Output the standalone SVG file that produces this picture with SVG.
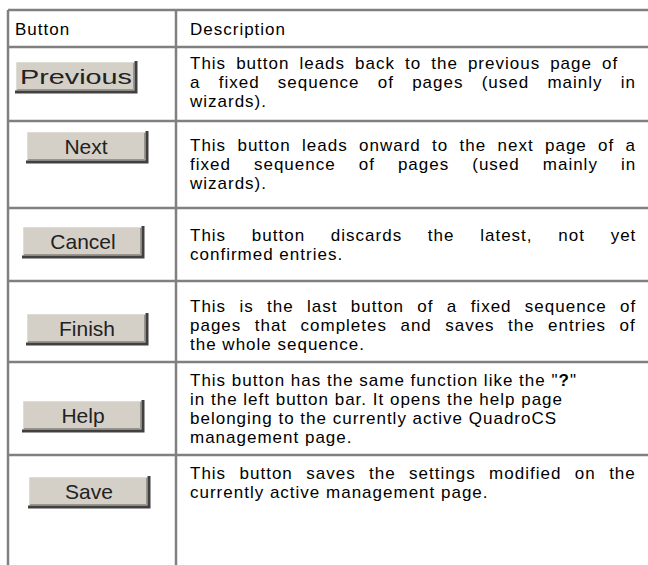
<svg xmlns="http://www.w3.org/2000/svg" xmlns:xlink="http://www.w3.org/1999/xlink" width="648" height="565" viewBox="0 0 648 565">
<style>
.grid{stroke:#808080;stroke-width:2.5;fill:none}
.t{font-family:"Liberation Sans",Arial,sans-serif;font-size:17px;letter-spacing:1px;fill:#000}
.bt{font-family:"Liberation Sans",Arial,sans-serif;font-size:21px;fill:#222;text-anchor:middle}
</style>
<defs>
<g id="btn">
<rect x="0" y="0" width="122" height="32" fill="#d4d0c8"/>
<polyline points="0.5,32 0.5,0.5 122,0.5" fill="none" stroke="#ffffff" stroke-width="1.5"/>
<polyline points="0,31 121,31 121,0" fill="none" stroke="#404040" stroke-width="3"/>
<polyline points="2,28.5 118.5,28.5 118.5,2" fill="none" stroke="#9a968e" stroke-width="1"/>
</g>
</defs>
<rect width="648" height="565" fill="#ffffff"/>
<g id="grid">
<line class="grid" x1="8" y1="10" x2="648" y2="10"/>
<line class="grid" x1="8" y1="10" x2="8" y2="565"/>
<line class="grid" x1="176" y1="10" x2="176" y2="565"/>
<line class="grid" x1="8" y1="47" x2="648" y2="47"/>
<line class="grid" x1="8" y1="121" x2="648" y2="121"/>
<line class="grid" x1="8" y1="208" x2="648" y2="208"/>
<line class="grid" x1="8" y1="281" x2="648" y2="281"/>
<line class="grid" x1="8" y1="362" x2="648" y2="362"/>
<line class="grid" x1="8" y1="455" x2="648" y2="455"/>
</g>
<g id="header">
<text class="t" x="15" y="35">Button</text>
<text class="t" x="190" y="35">Description</text>
</g>
<g id="row-previous">
<use xlink:href="#btn" x="15" y="61"/>
<text class="bt" x="76" y="84" textLength="112" lengthAdjust="spacingAndGlyphs">Previous</text>
<text class="t" x="190" y="68.5" word-spacing="4.3">This button leads back to the previous page of</text>
<text class="t" x="190" y="87.5" word-spacing="12.5">a fixed sequence of pages (used mainly in</text>
<text class="t" x="190" y="106.5">wizards).</text>
</g>
<g id="row-next">
<use xlink:href="#btn" x="26" y="131"/>
<text class="bt" x="86" y="154">Next</text>
<text class="t" x="190" y="150.5" word-spacing="5.6">This button leads onward to the next page of a</text>
<text class="t" x="190" y="169.5" word-spacing="17.3">fixed sequence of pages (used mainly in</text>
<text class="t" x="190" y="188.5">wizards).</text>
</g>
<g id="row-cancel">
<use xlink:href="#btn" x="22" y="226"/>
<text class="bt" x="83" y="249">Cancel</text>
<text class="t" x="190" y="240.5" word-spacing="20">This button discards the latest, not yet</text>
<text class="t" x="190" y="259.5">confirmed entries.</text>
</g>
<g id="row-finish">
<use xlink:href="#btn" x="26" y="313"/>
<text class="bt" x="87" y="336">Finish</text>
<text class="t" x="190" y="311.5" word-spacing="7.6">This is the last button of a fixed sequence of</text>
<text class="t" x="190" y="330.5" word-spacing="7.7">pages that completes and saves the entries of</text>
<text class="t" x="190" y="349.5">the whole sequence.</text>
</g>
<g id="row-help">
<use xlink:href="#btn" x="22" y="400"/>
<text class="bt" x="83" y="423">Help</text>
<text class="t" x="190" y="386">This button has the same function like the "<tspan font-weight="bold">?</tspan>"</text>
<text class="t" x="190" y="405">in the left button bar. It opens the help page</text>
<text class="t" x="190" y="424">belonging to the currently active QuadroCS</text>
<text class="t" x="190" y="443">management page.</text>
</g>
<g id="row-save">
<use xlink:href="#btn" x="28" y="476"/>
<text class="bt" x="89" y="499">Save</text>
<text class="t" x="190" y="478.5" word-spacing="7.7">This button saves the settings modified on the</text>
<text class="t" x="190" y="497.5">currently active management page.</text>
</g>
</svg>
